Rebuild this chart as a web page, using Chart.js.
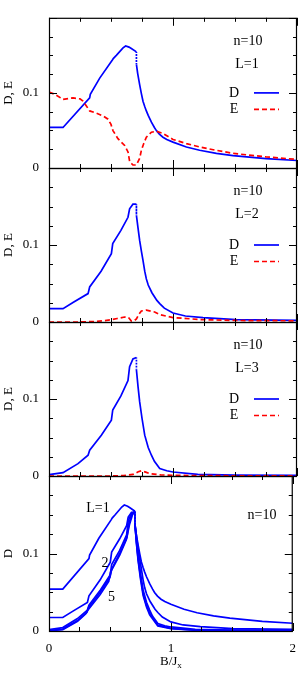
<!DOCTYPE html>
<html><head><meta charset="utf-8">
<script src="https://cdn.jsdelivr.net/npm/chart.js@4/dist/chart.umd.min.js"></script>
<style>
html,body{margin:0;padding:0;background:#fff;}
#wrap{position:relative;width:306px;height:681px;background:#fff;}
canvas{position:absolute;left:0;top:0;}
</style></head><body>
<div id="wrap">
<canvas id="c1" width="306" height="681"></canvas>
<canvas id="c2" width="306" height="681"></canvas>
<canvas id="c3" width="306" height="681"></canvas>
<canvas id="c4" width="306" height="681"></canvas>
</div>
<script>
// ---------- data (B/Jx on x, D or E on y) ----------
const xTickLabels = ['0', '1', '2'];
const yTickLabels = ['0', '0.1', ''];

// L = 1
const bD1 = [0, 0.113, 0.328, 0.333, 0.409, 0.511, 0.52, 0.543, 0.597, 0.618, 0.645, 0.664, 0.705, 0.705, 0.715, 0.731, 0.745, 0.758, 0.772, 0.785, 0.80, 0.826, 0.85, 0.866, 0.89, 0.919, 0.95, 1.0, 1.108, 1.215, 1.35, 1.484, 1.75, 2.0];
const D1  = [0.054, 0.054, 0.0934, 0.098, 0.1197, 0.1437, 0.146, 0.150, 0.160, 0.1625, 0.161, 0.159, 0.1546, 0.138, 0.126, 0.111, 0.099, 0.089, 0.082, 0.076, 0.070, 0.061, 0.054, 0.0498, 0.045, 0.041, 0.038, 0.0345, 0.028, 0.0236, 0.0195, 0.0165, 0.0125, 0.0100];
const bE1 = [0, 0.05, 0.113, 0.194, 0.25, 0.274, 0.3, 0.328, 0.382, 0.44, 0.476, 0.50, 0.516, 0.556, 0.61, 0.637, 0.651, 0.677, 0.705, 0.731, 0.745, 0.765, 0.785, 0.826, 0.866, 0.919, 1.0, 1.108, 1.215, 1.35, 1.484, 1.75, 2.0];
const E1  = [0.101, 0.098, 0.0913, 0.0934, 0.092, 0.089, 0.083, 0.076, 0.073, 0.069, 0.065, 0.058, 0.0498, 0.039, 0.030, 0.0214, 0.0083, 0.004, 0.004, 0.0127, 0.0236, 0.033, 0.041, 0.0476, 0.049, 0.046, 0.038, 0.0325, 0.028, 0.0235, 0.0195, 0.0148, 0.0114];

// L = 2
const bD2 = [0, 0.113, 0.2, 0.315, 0.328, 0.42, 0.503, 0.514, 0.58, 0.637, 0.65, 0.677, 0.705, 0.705, 0.718, 0.731, 0.745, 0.758, 0.772, 0.785, 0.80, 0.83, 0.87, 0.893, 0.93, 1.0, 1.1, 1.242, 1.51, 2.0];
const D2  = [0.0174, 0.0174, 0.026, 0.0369, 0.0455, 0.066, 0.0888, 0.1018, 0.119, 0.136, 0.147, 0.153, 0.153, 0.1386, 0.122, 0.106, 0.092, 0.080, 0.066, 0.056, 0.048, 0.038, 0.028, 0.0239, 0.018, 0.0117, 0.0078, 0.0057, 0.0031, 0.002];
const bE2 = [0, 0.25, 0.35, 0.45, 0.503, 0.55, 0.61, 0.64, 0.664, 0.69, 0.705, 0.725, 0.745, 0.785, 0.852, 0.893, 1.0, 1.24, 1.5, 2.0];
const E2  = [0, 0, 0.0005, 0.0018, 0.003, 0.0045, 0.0065, 0.006, 0.0013, 0.002, 0.004, 0.010, 0.0143, 0.0155, 0.013, 0.0096, 0.0057, 0.003, 0.002, 0.0015];

// L = 3
const bD3 = [0, 0.113, 0.234, 0.315, 0.328, 0.422, 0.503, 0.514, 0.58, 0.637, 0.65, 0.677, 0.705, 0.705, 0.718, 0.731, 0.75, 0.772, 0.80, 0.826, 0.85, 0.893, 0.95, 1.0, 1.2, 1.5, 2.0];
const D3  = [0.0018, 0.0044, 0.016, 0.027, 0.0335, 0.053, 0.0726, 0.0857, 0.104, 0.124, 0.142, 0.152, 0.154, 0.138, 0.116, 0.0965, 0.075, 0.053, 0.037, 0.027, 0.019, 0.0096, 0.0068, 0.0052, 0.0022, 0.0012, 0.0008];
const bE3 = [0, 0.5, 0.6, 0.677, 0.72, 0.745, 0.78, 0.812, 0.9, 1.0, 1.5, 2.0];
const E3  = [0, 0, 0.0005, 0.002, 0.0055, 0.0068, 0.005, 0.003, 0.0015, 0.0008, 0.0003, 0.0002];

// L = 4, 5 (bottom panel only)
const bD4 = [0, 0.113, 0.234, 0.31, 0.325, 0.42, 0.50, 0.515, 0.58, 0.64, 0.655, 0.68, 0.705, 0.705, 0.718, 0.731, 0.75, 0.772, 0.80, 0.826, 0.893, 1.0, 1.2, 2.0];
const D4  = [0.0006, 0.0025, 0.0135, 0.024, 0.0305, 0.050, 0.069, 0.080, 0.100, 0.121, 0.138, 0.151, 0.154, 0.138, 0.114, 0.093, 0.071, 0.049, 0.033, 0.023, 0.0075, 0.0035, 0.0012, 0.0003];
const bD5 = [0, 0.113, 0.234, 0.30, 0.32, 0.42, 0.49, 0.505, 0.58, 0.635, 0.66, 0.685, 0.705, 0.705, 0.718, 0.731, 0.75, 0.772, 0.80, 0.826, 0.893, 1.0, 1.2, 2.0];
const D5  = [0.0002, 0.0018, 0.0125, 0.022, 0.027, 0.047, 0.064, 0.076, 0.098, 0.118, 0.137, 0.150, 0.154, 0.138, 0.112, 0.091, 0.068, 0.046, 0.031, 0.021, 0.0065, 0.003, 0.001, 0.0002];

// ---------- helpers ----------
const FONT = '"Liberation Serif", "Times New Roman", serif';
const BLUE = '#0000ff';
const RED = '#ff0000';
const W = 306, H = 681;
const pts = (xs, ys) => xs.map((x, i) => ({x: x, y: ys[i]}));

function dSet(xs, ys) {
  return {
    data: pts(xs, ys), borderColor: BLUE, borderWidth: 1.7, pointRadius: 0, fill: false,
    segment: { borderDash: c => (c.p0.parsed.x === c.p1.parsed.x ? [1.2, 1.8] : undefined) }
  };
}
function eSet(xs, ys) {
  return { data: pts(xs, ys), borderColor: RED, borderWidth: 1.7, pointRadius: 0, fill: false, borderDash: [5, 3] };
}

const deco = {
  id: 'deco',
  afterDraw(chart, args, o) {
    const ctx = chart.ctx;
    const a = chart.chartArea;
    const xs = chart.scales.x, ys = chart.scales.y;
    ctx.save();
    ctx.strokeStyle = '#000';
    ctx.lineWidth = 1.2;
    ctx.strokeRect(a.left + 0.5, a.top + 0.5, a.right - a.left - 1, a.bottom - a.top);
    ctx.beginPath();
    ctx.lineWidth = 1;
    for (let k = 0; k <= 8; k++) {
      const v = k * 0.25;
      const p = Math.round(xs.getPixelForValue(v)) + 0.5;
      const len = (k % 4 === 0) ? 8 : 4;
      ctx.moveTo(p, a.bottom); ctx.lineTo(p, a.bottom - len);
      ctx.moveTo(p, a.top); ctx.lineTo(p, a.top + len);
    }
    for (let k = 0; k <= 8; k++) {
      const v = k * 0.025;
      const p = Math.round(ys.getPixelForValue(v)) + 0.5;
      const len = (k % 4 === 0) ? 8 : 4;
      ctx.moveTo(a.left, p); ctx.lineTo(a.left + len, p);
      ctx.moveTo(a.right, p); ctx.lineTo(a.right - len, p);
    }
    ctx.stroke();

    ctx.fillStyle = '#000';
    ctx.textBaseline = 'middle';
    (o.texts || []).forEach(t => {
      ctx.font = (t.size || 14) + 'px ' + FONT;
      ctx.textAlign = t.align || 'center';
      ctx.fillText(t.text, a.left + t.dx, a.top + t.dy);
    });
    if (o.legend) {
      const y0 = ys.getPixelForValue(0.1);
      const items = [['D', BLUE, []], ['E', RED, [5, 3]]];
      items.forEach((it, i) => {
        const y = y0 + i * 16.5;
        ctx.font = '14px ' + FONT;
        ctx.textAlign = 'center';
        ctx.fillStyle = '#000';
        ctx.fillText(it[0], a.left + 185, y);
        ctx.beginPath();
        ctx.setLineDash(it[2]);
        ctx.strokeStyle = it[1];
        ctx.lineWidth = 1.7;
        ctx.moveTo(a.left + 205, y); ctx.lineTo(a.left + 230, y);
        ctx.stroke();
        ctx.setLineDash([]);
      });
    }
    if (o.xtitle) {
      const cx = xs.getPixelForValue(1);
      const y = 662;
      ctx.textAlign = 'left';
      ctx.fillStyle = '#000';
      ctx.font = '13px ' + FONT;
      const w1 = ctx.measureText('B/J').width;
      ctx.font = '9px ' + FONT;
      const w2 = ctx.measureText('x').width;
      const x0 = cx - (w1 + w2) / 2;
      ctx.font = '13px ' + FONT;
      ctx.fillText('B/J', x0, y);
      ctx.font = '9px ' + FONT;
      ctx.fillText('x', x0 + w1, y + 4);
    }
    ctx.restore();
  }
};

function makeChart(id, top, bottom, datasets, ytitle, decoOpts, showX) {
  const XH = 40;
  return new Chart(document.getElementById(id), {
    type: 'line',
    data: { datasets: datasets },
    options: {
      responsive: false, animation: false, events: [],
      layout: { padding: { left: 0, right: 9, top: top, bottom: showX ? H - bottom - XH : H - bottom } },
      plugins: { legend: { display: false }, tooltip: { enabled: false }, deco: decoOpts },
      elements: { point: { radius: 0 }, line: { tension: 0 } },
      scales: {
        x: {
          type: 'linear', min: 0, max: 2, display: showX,
          grid: { display: false, drawTicks: false }, border: { display: false },
          ticks: { stepSize: 1, padding: 10, color: '#000', font: { family: FONT, size: 13 },
                   callback: (v, i) => xTickLabels[i] },
          afterFit: s => { if (showX) s.height = XH; }
        },
        y: {
          type: 'linear', min: 0, max: 0.2,
          grid: { display: false, drawTicks: false }, border: { display: false },
          ticks: { stepSize: 0.1, padding: 10, color: '#000', font: { family: FONT, size: 13 },
                   callback: (v, i) => yTickLabels[i] },
          title: { display: true, text: ytitle, color: '#000', font: { family: FONT, size: 13 }, padding: { top: 1, bottom: 0 } },
          afterFit: s => { s.width = 49; }
        }
      }
    },
    plugins: [deco]
  });
}

makeChart('c1', 15, 168, [eSet(bE1, E1), dSet(bD1, D1)], 'D, E',
  { texts: [{ text: 'n=10', dx: 199, dy: 23.5 }, { text: 'L=1', dx: 198, dy: 46.5 }], legend: true }, false);
makeChart('c2', 168, 322, [eSet(bE2, E2), dSet(bD2, D2)], 'D, E',
  { texts: [{ text: 'n=10', dx: 199, dy: 23.5 }, { text: 'L=2', dx: 198, dy: 46 }], legend: true }, false);
makeChart('c3', 322, 476, [eSet(bE3, E3), dSet(bD3, D3)], 'D, E',
  { texts: [{ text: 'n=10', dx: 199, dy: 23.5 }, { text: 'L=3', dx: 198, dy: 46.5 }], legend: true }, false);
makeChart('c4', 476, 631, [dSet(bD1, D1), dSet(bD2, D2), dSet(bD3, D3), dSet(bD4, D4), dSet(bD5, D5)], 'D',
  { texts: [{ text: 'n=10', dx: 213, dy: 39 }, { text: 'L=1', dx: 49, dy: 32.5 }, { text: '2', dx: 56, dy: 87 }, { text: '5', dx: 62.5, dy: 121 }], xtitle: true }, true);
</script>
</body></html>
